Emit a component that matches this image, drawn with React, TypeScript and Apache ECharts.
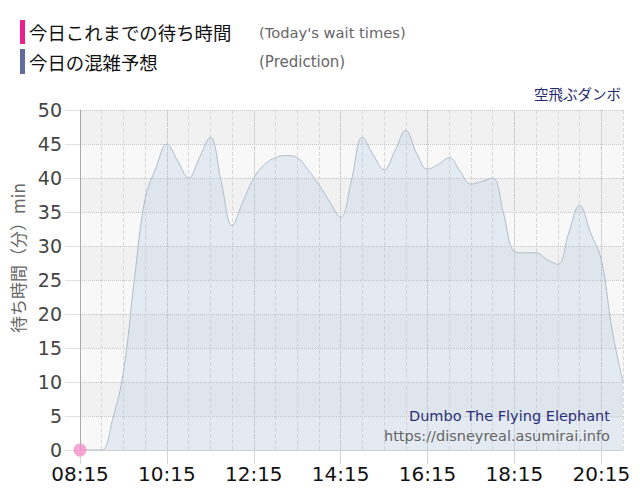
import { useEffect, useRef } from "react";
import * as echarts from "echarts";

// 15-minute slots, 08:15 .. 20:45
const times = [
  "08:15", "08:30", "08:45", "09:00", "09:15", "09:30", "09:45", "10:00",
  "10:15", "10:30", "10:45", "11:00", "11:15", "11:30", "11:45", "12:00",
  "12:15", "12:30", "12:45", "13:00", "13:15", "13:30", "13:45", "14:00",
  "14:15", "14:30", "14:45", "15:00", "15:15", "15:30", "15:45", "16:00",
  "16:15", "16:30", "16:45", "17:00", "17:15", "17:30", "17:45", "18:00",
  "18:15", "18:30", "18:45", "19:00", "19:15", "19:30", "19:45", "20:00",
  "20:15", "20:30", "20:45",
];

// 今日の混雑予想 (minutes)
const prediction = [
  0, 0, 0, 4.5, 11.5, 25, 37, 41.5,
  45, 42.5, 40, 43, 46, 39.5, 33, 36.5,
  40, 42, 43, 43.3, 43, 41.2, 39, 36.5,
  34.2, 39.7, 46, 43.4, 41.2, 44, 47, 43.6,
  41.3, 42, 43, 41, 39.1, 39.5, 40, 34.8,
  29.2, 29, 29, 28, 27.3, 31.9, 36, 32,
  28, 17.6, 10,
];

// 今日これまでの待ち時間
const todayTimes = ["08:15"];
const todayWaits = [0];

const yTicks = { min: 0, max: 50, step: 5 };

const JP = '"Noto Sans CJK JP", sans-serif';
const LATIN = '"DejaVu Sans", Verdana, sans-serif';

export default function App() {
  const ref = useRef<HTMLDivElement>(null);

  useEffect(() => {
    document.body.style.margin = "0";
    if (!ref.current) return;
    const chart = echarts.init(ref.current, null, { renderer: "svg" });

    chart.setOption({
      animation: false,
      backgroundColor: "#fff",
      grid: { left: 80, right: 17, top: 110, bottom: 50 },
      xAxis: [
        {
          type: "category",
          data: times,
          boundaryGap: false,
          axisLine: { lineStyle: { color: "#cfcfcf" } },
          axisTick: {
            show: true,
            interval: 7,
            length: 14,
            lineStyle: { color: "#d4d4d4" },
          },
          axisLabel: {
            interval: 7,
            fontSize: 20,
            color: "#111",
            margin: 14,
            fontFamily: LATIN,
          },
          splitLine: {
            show: true,
            interval: 1,
            lineStyle: { type: "dashed", color: "#d9d9d9" },
          },
        },
        {
          type: "category",
          data: times,
          boundaryGap: false,
          position: "bottom",
          axisLine: { show: false },
          axisTick: { show: false },
          axisLabel: { show: false },
          splitLine: {
            show: true,
            interval: 7,
            lineStyle: { type: "dotted", color: "#c4c4c4" },
          },
        },
      ],
      yAxis: {
        type: "value",
        min: yTicks.min,
        max: yTicks.max,
        interval: yTicks.step,
        axisLine: { show: true, lineStyle: { color: "#a9a9a9" } },
        axisTick: { show: true, length: 15, lineStyle: { color: "#e0e0e0" } },
        axisLabel: {
          fontSize: 19,
          color: "#444",
          margin: 18,
          fontFamily: LATIN,
        },
        splitLine: { lineStyle: { type: "dotted", color: "#c6c6c6" } },
        splitArea: {
          show: true,
          areaStyle: { color: ["#f8f8f8", "#f1f1f1"] },
        },
      },
      series: [
        {
          name: "今日の混雑予想",
          type: "line",
          data: prediction,
          smooth: 0.4,
          symbol: "none",
          lineStyle: { color: "#aebdca", width: 1 },
          areaStyle: { color: "rgba(176,202,226,0.42)" },
          z: 2,
        },
        {
          name: "今日これまでの待ち時間",
          type: "scatter",
          data: todayTimes.map((t, i) => [t, todayWaits[i]]),
          symbolSize: 13,
          itemStyle: { color: "#f590c6" },
          clip: false,
          z: 10,
        },
      ],
      graphic: [
        {
          type: "rect",
          shape: { x: 20, y: 20, width: 5, height: 24 },
          style: { fill: "#ee1c8c" },
        },
        {
          type: "text",
          x: 29,
          y: 32,
          style: {
            text: "今日これまでの待ち時間",
            fontSize: 18.4,
            fontFamily: JP,
            fill: "#111",
            verticalAlign: "middle",
          },
        },
        {
          type: "text",
          x: 259,
          y: 32,
          style: {
            text: "(Today's wait times)",
            fontSize: 14.7,
            fontFamily: LATIN,
            fill: "#666",
            verticalAlign: "middle",
          },
        },
        {
          type: "rect",
          shape: { x: 20, y: 49, width: 5, height: 25 },
          style: { fill: "#606c9c" },
        },
        {
          type: "text",
          x: 29,
          y: 62,
          style: {
            text: "今日の混雑予想",
            fontSize: 18.4,
            fontFamily: JP,
            fill: "#111",
            verticalAlign: "middle",
          },
        },
        {
          type: "text",
          x: 259,
          y: 62,
          style: {
            text: "(Prediction)",
            fontSize: 15,
            fontFamily: LATIN,
            fill: "#666",
            verticalAlign: "middle",
          },
        },
        {
          type: "text",
          x: 621,
          y: 93,
          style: {
            text: "空飛ぶダンボ",
            fontSize: 14.5,
            fontFamily: JP,
            fill: "#262a70",
            align: "right",
            verticalAlign: "middle",
          },
        },
        {
          type: "text",
          x: 17,
          y: 258,
          rotation: Math.PI / 2,
          style: {
            text: "待ち時間（分）min",
            fontSize: 17,
            fontFamily: JP,
            fill: "#666",
            align: "center",
            verticalAlign: "middle",
          },
        },
        {
          type: "text",
          x: 610,
          y: 416,
          z: 20,
          style: {
            text: "Dumbo The Flying Elephant",
            fontSize: 14.5,
            fontFamily: LATIN,
            fill: "#2b2f78",
            align: "right",
            verticalAlign: "middle",
          },
        },
        {
          type: "text",
          x: 610,
          y: 436,
          z: 20,
          style: {
            text: "https://disneyreal.asumirai.info",
            fontSize: 14.5,
            fontFamily: LATIN,
            fill: "#666",
            align: "right",
            verticalAlign: "middle",
          },
        },
      ],
    });

    return () => {
      chart.dispose();
    };
  }, []);

  return <div ref={ref} style={{ width: 640, height: 500 }} />;
}
